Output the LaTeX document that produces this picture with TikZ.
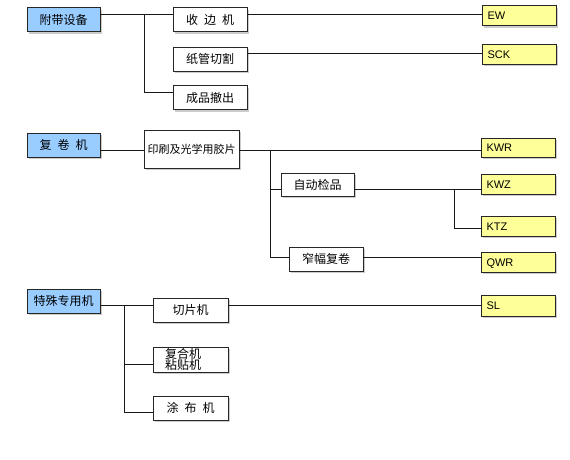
\documentclass[tikz,border=0pt]{standalone}
\usepackage{fontspec}
\setmainfont{Liberation Sans}
\newfontfamily\cjk{Noto Sans CJK SC}
\usetikzlibrary{shadows}
\definecolor{grpblue}{HTML}{99CCFF}
\definecolor{codeyellow}{HTML}{FFFF99}
\tikzset{
  box/.style={draw=black!85, line width=0.8pt, fill=white, inner sep=0pt,
    minimum width=74pt, minimum height=24pt, font=\cjk\fontsize{12}{12}\selectfont,
    drop shadow={shadow xshift=2pt, shadow yshift=-2pt, fill=black!40, opacity=0.5}},
  group/.style={box, fill=grpblue, minimum width=73pt},
  code/.style={box, fill=codeyellow, minimum height=20pt, text width=63pt, inner xsep=3pt,
    align=left, text height=8pt, text depth=0pt, font=\fontsize{11}{11}\selectfont},
  link/.style={line width=0.9pt, black!90}
}
\begin{document}
\begin{tikzpicture}[x=1pt,y=-1pt]
	%%%%% START %%%%%
	\useasboundingbox (0,0) rectangle (570,459);
	
	% 附带设备
	\node[group] (fb) at (63.5,19.5) {附带设备};
	\node[box] (sbj) at (210,19.5) {收\hspace{.5em}边\hspace{.5em}机};
	\node[box] (zg) at (210,59) {纸管切割};
	\node[box] (cp) at (210,97.5) {成品撤出};
	\node[code] (ew) at (519,15.5) {EW};
	\node[code] (sck) at (519,54) {SCK};
	
	\coordinate (fb1) at (144,14);
	\coordinate (fb2) at (144,92);
	\coordinate (zg1) at (300,53);
	\draw[link] (fb.east |- fb1) -- (sbj.west |- fb1);
	\draw[link] (sbj.east |- fb1) -- (ew.west |- fb1);
	\draw[link] (fb1) -- (fb2) -- (cp.west |- fb2);
	\draw[link] (zg.east |- zg1) -- (sck.west |- zg1);
	
	% 复卷机
	\node[group] (fj) at (63.5,145) {复\hspace{.5em}卷\hspace{.5em}机};
	\node[box, minimum width=95pt, minimum height=38pt, font=\cjk\fontsize{11}{11}\selectfont] (ys) at (191.5,149) {印刷及光学用胶片};
	\node[box, minimum width=73pt, minimum height=23pt] (zd) at (317.5,184.5) {自动检品};
	\node[box] (zf) at (326,259) {窄幅复卷};
	\node[code, minimum height=19pt] (kwr) at (518,147.5) {KWR};
	\node[code] (kwz) at (518,184) {KWZ};
	\node[code] (ktz) at (518,226) {KTZ};
	\node[code] (qwr) at (518,262) {QWR};
	
	\coordinate (fj1) at (270,150);
	\coordinate (fj2) at (270,257);
	\coordinate (zd1) at (270,189);
	\coordinate (zd2) at (454,189);
	\coordinate (zd3) at (454,228);
	\draw[link] (fj.east |- fj1) -- (ys.west |- fj1);
	\draw[link] (ys.east |- fj1) -- (kwr.west |- fj1);
	\draw[link] (fj1) -- (fj2) -- (zf.west |- fj2);
	\draw[link] (zf.east |- fj2) -- (qwr.west |- fj2);
	\draw[link] (zd1) -- (zd.west |- zd1);
	\draw[link] (zd.east |- zd1) -- (kwz.west |- zd1);
	\draw[link] (zd2) -- (zd3) -- (ktz.west |- zd3);
	
	% 特殊专用机
	\node[group] (ts) at (63.5,301) {特殊专用机};
	\node[box, minimum width=75pt] (qp) at (190.5,310) {切片机};
	\node[box, minimum height=25pt, text width=51pt, inner xsep=12pt, align=left, font=\cjk\fontsize{12}{11.5}\selectfont] (fh) at (190.5,359.5) {复合机\\粘贴机};
	\node[box, minimum width=75pt] (tb) at (190.5,408) {涂\hspace{.5em}布\hspace{.5em}机};
	\node[code, minimum height=21pt] (sl) at (518,305.5) {SL};
	
	\coordinate (ts1) at (124,305);
	\coordinate (ts2) at (124,412);
	\coordinate (fh1) at (124,364);
	\draw[link] (ts.east |- ts1) -- (qp.west |- ts1);
	\draw[link] (qp.east |- ts1) -- (sl.west |- ts1);
	\draw[link] (ts1) -- (ts2) -- (tb.west |- ts2);
	\draw[link] (fh1) -- (fh.west |- fh1);
	
	%%%%% END %%%%%
\end{tikzpicture}
\end{document}
